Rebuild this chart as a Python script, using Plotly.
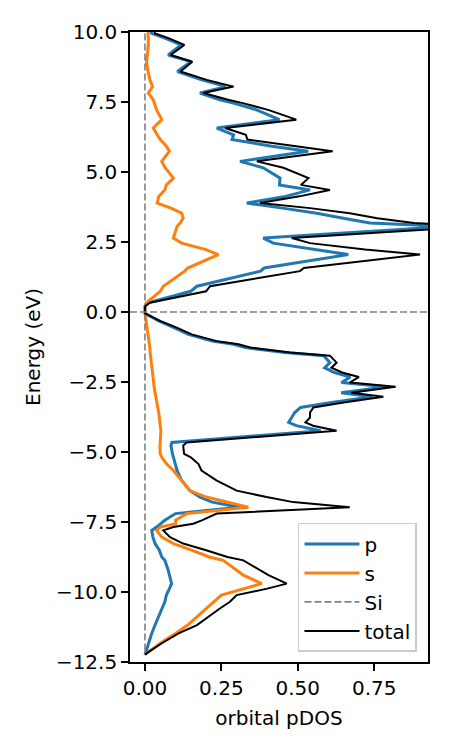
import plotly.graph_objects as go

# energy grid (eV) and orbital pDOS
energy = [10.3, 9.95, 9.78, 9.54, 9.18, 8.94, 8.59, 8.29, 8.05, 7.82, 7.58, 7.46, 7.22, 6.87,
          6.57, 6.33, 6.16, 5.92, 5.74, 5.38, 5.15, 4.78, 4.54, 4.36, 4.13, 3.89, 3.71, 3.53,
          3.35, 3.18, 3.06, 2.64, 2.46, 2.23, 2.05, 1.57, 1.46, 0.92, 0.74, 0.33, 0.20,
          -0.05, -0.32, -0.56, -0.80, -1.04, -1.15, -1.27, -1.45, -1.56, -1.81, -1.99, -2.16,
          -2.32, -2.52, -2.67, -2.88, -3.03, -3.23, -3.41, -3.59, -3.77, -3.94, -4.06, -4.24,
          -4.66, -4.77, -5.07, -5.19, -5.43, -5.66, -6.02, -6.38, -6.61, -6.79, -6.97, -7.09,
          -7.20, -7.44, -7.56, -7.68, -7.80, -8.04, -8.27, -8.51, -8.75, -8.87, -9.22, -9.40,
          -9.70, -9.88, -10.11, -10.35, -10.59, -10.89, -11.18, -11.48, -11.83, -12.19, -12.24]

pdos_p = [0.012, 0.022, 0.065, 0.118, 0.076, 0.150, 0.106, 0.186, 0.265, 0.180, 0.245, 0.290, 0.365, 0.440,
          0.235, 0.290, 0.285, 0.415, 0.534, 0.311, 0.387, 0.442, 0.440, 0.540, 0.460, 0.333, 0.450, 0.562,
          0.649, 0.736, 1.000, 0.387, 0.420, 0.560, 0.665, 0.390, 0.378, 0.170, 0.150, 0.010, 0.000,
          0.000, 0.045, 0.095, 0.142, 0.220, 0.290, 0.328, 0.458, 0.585, 0.605, 0.588, 0.620,
          0.672, 0.643, 0.790, 0.642, 0.744, 0.610, 0.509, 0.490, 0.480, 0.470, 0.495, 0.575,
          0.088, 0.085, 0.090, 0.093, 0.100, 0.105, 0.120, 0.147, 0.180, 0.220, 0.310, 0.200,
          0.100, 0.065, 0.052, 0.038, 0.022, 0.026, 0.033, 0.047, 0.055, 0.065, 0.076, 0.080,
          0.087, 0.080, 0.070, 0.065, 0.055, 0.043, 0.033, 0.022, 0.012, 0.003, 0.000]

pdos_s = [0.010, 0.011, 0.012, 0.011, 0.008, 0.005, 0.010, 0.016, 0.025, 0.011, 0.027, 0.030, 0.038, 0.055,
          0.027, 0.040, 0.050, 0.070, 0.080, 0.055, 0.066, 0.093, 0.070, 0.065, 0.045, 0.040, 0.085, 0.120,
          0.125, 0.115, 0.105, 0.093, 0.120, 0.200, 0.240, 0.140, 0.130, 0.060, 0.050, 0.005, 0.000,
          0.000, 0.004, 0.008, 0.011, 0.015, 0.016, 0.016, 0.017, 0.018, 0.020, 0.022, 0.024,
          0.026, 0.027, 0.030, 0.033, 0.036, 0.040, 0.042, 0.045, 0.047, 0.049, 0.050, 0.052,
          0.050, 0.049, 0.050, 0.055, 0.071, 0.093, 0.120, 0.147, 0.200, 0.267, 0.338, 0.235,
          0.136, 0.100, 0.100, 0.050, 0.038, 0.055, 0.093, 0.155, 0.210, 0.256, 0.300, 0.322,
          0.382, 0.320, 0.250, 0.225, 0.200, 0.170, 0.140, 0.100, 0.050, 0.005, 0.000]

pdos_total = [0.022, 0.033, 0.077, 0.129, 0.084, 0.155, 0.116, 0.202, 0.290, 0.191, 0.272, 0.320, 0.403, 0.495,
              0.262, 0.330, 0.335, 0.485, 0.614, 0.366, 0.453, 0.535, 0.510, 0.605, 0.505, 0.376, 0.540, 0.670,
              0.760, 0.880, 1.100, 0.480, 0.540, 0.720, 0.900, 0.520, 0.507, 0.213, 0.200, 0.016, 0.000,
              0.000, 0.049, 0.104, 0.153, 0.235, 0.306, 0.344, 0.475, 0.605, 0.627, 0.610, 0.645,
              0.700, 0.670, 0.820, 0.675, 0.780, 0.650, 0.551, 0.540, 0.540, 0.525, 0.550, 0.627,
              0.136, 0.125, 0.128, 0.150, 0.175, 0.185, 0.235, 0.300, 0.398, 0.485, 0.670, 0.420,
              0.235, 0.186, 0.158, 0.093, 0.060, 0.082, 0.125, 0.200, 0.270, 0.322, 0.376, 0.404,
              0.464, 0.400, 0.300, 0.278, 0.245, 0.207, 0.170, 0.110, 0.055, 0.005, 0.000]

pdos_si = [0.0] * len(energy)

x_ticks = [0.0, 0.25, 0.5, 0.75]
y_ticks = [-12.5, -10.0, -7.5, -5.0, -2.5, 0.0, 2.5, 5.0, 7.5, 10.0]

fig = go.Figure()
fig.add_trace(go.Scatter(x=pdos_p, y=energy, mode='lines', name='p',
                         line=dict(color='#1f77b4', width=3)))
fig.add_trace(go.Scatter(x=pdos_s, y=energy, mode='lines', name='s',
                         line=dict(color='#ff7f0e', width=3)))
fig.add_trace(go.Scatter(x=pdos_si, y=energy, mode='lines', name='Si',
                         line=dict(color='#808080', width=1.6, dash='7px,3px')))
fig.add_trace(go.Scatter(x=pdos_total, y=energy, mode='lines', name='total',
                         line=dict(color='black', width=2)))

# Fermi level
fig.add_hline(y=0, line=dict(color='#808080', width=1.6, dash='7px,3px'))

axis_style = dict(showline=True, linecolor='black', linewidth=1.6, mirror=True,
                  ticks='outside', ticklen=7, tickwidth=1.6, tickcolor='black',
                  showgrid=False, zeroline=False,
                  tickfont=dict(size=20, color='black'))

fig.update_xaxes(range=[-0.049, 0.926], tickvals=x_ticks, tickformat='.2f',
                 title=dict(text='orbital pDOS', font=dict(size=20, color='black'), standoff=12),
                 **axis_style)
fig.update_yaxes(range=[-12.5, 10.0], tickvals=y_ticks, tickformat='.1f',
                 title=dict(text='Energy (eV)', font=dict(size=20, color='black'), standoff=10),
                 **axis_style)

# the page body adds 8px, so margins are shifted to land the axes where the reference has them
fig.update_layout(
    width=450, height=750,
    margin=dict(l=122, r=30, t=22, b=96),
    plot_bgcolor='white', paper_bgcolor='white',
    font=dict(family='DejaVu Sans', size=20, color='black'),
    legend=dict(x=0.963, y=0.016, xanchor='right', yanchor='bottom',
                bgcolor='rgba(255,255,255,0.8)', bordercolor='#cccccc', borderwidth=1.5,
                itemwidth=55, font=dict(size=20)),
)

fig.write_html("out.html")
